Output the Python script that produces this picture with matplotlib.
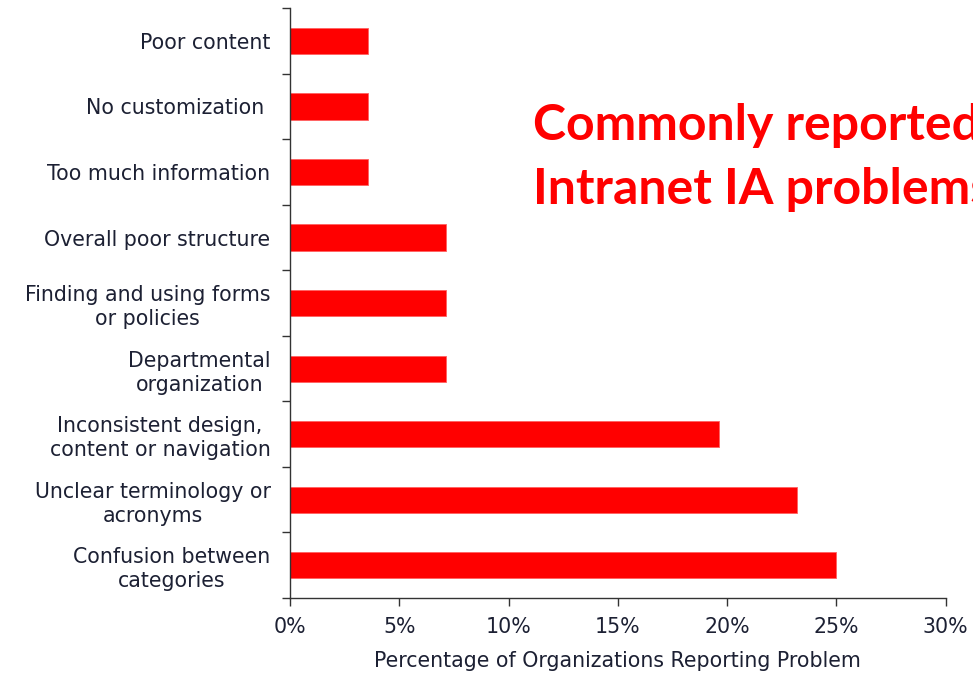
import matplotlib
matplotlib.use("Agg")
import matplotlib.pyplot as plt
import numpy as np
from matplotlib.ticker import FixedLocator, FuncFormatter

# data (top -> bottom as in the picture)
categories = [
    "Poor content",
    "No customization ",
    "Too much information",
    "Overall poor structure",
    "Finding and using forms\nor policies",
    "Departmental\norganization",
    "Inconsistent design,\ncontent or navigation",
    "Unclear terminology or\nacronyms",
    "Confusion between\ncategories",
]
percent = [3.57, 3.57, 3.57, 7.14, 7.14, 7.14, 19.64, 23.21, 25.0]
xticks = [0, 5, 10, 15, 20, 25, 30]

TEXT = "#1c2033"
RED = "#ff0000"
FS = 14.8

plt.rcParams.update({
    "font.family": "DejaVu Sans",
    "font.size": FS,
})

fig = plt.figure(figsize=(9.73, 6.75), dpi=100, facecolor="white")
ax = fig.add_axes([0.298, 0.114, 0.674, 0.874])

n = len(categories)
ypos = np.arange(n)
ax.barh(ypos, percent, height=0.4, color=RED, edgecolor="#ff6060", linewidth=0.6)

ax.set_ylim(n - 0.5, -0.5)
ax.set_xlim(0, 30)

ax.set_yticks(ypos)
ax.set_yticklabels(categories)
for lab in ax.get_yticklabels():
    lab.set_multialignment("center")
    lab.set_linespacing(1.25)
ax.yaxis.set_minor_locator(FixedLocator(np.arange(-0.5, n, 1.0)))
ax.tick_params(axis="y", which="major", length=0, pad=14, labelsize=FS, labelcolor=TEXT)
ax.tick_params(axis="y", which="minor", length=5.5, width=1, color="#333333")

ax.set_xticks(xticks)
ax.xaxis.set_major_formatter(FuncFormatter(lambda v, p: f"{v:.0f}%"))
ax.tick_params(axis="x", length=5.5, width=1, color="#333333", pad=8,
               labelsize=FS, labelcolor=TEXT)

ax.set_xlabel("Percentage of Organizations Reporting Problem", fontsize=FS,
              color=TEXT, labelpad=10)

for side in ["top", "right"]:
    ax.spines[side].set_visible(False)
for side in ["left", "bottom"]:
    ax.spines[side].set_color("#333333")
    ax.spines[side].set_linewidth(1)

# title text runs past the right edge, as in the original slide
fig.text(533 / 973, 1 - 140 / 675, "Commonly reported",
         fontsize=36, fontweight="bold", color=RED, family="Lato",
         ha="left", va="baseline")
fig.text(533 / 973, 1 - 204 / 675, "Intranet IA problems",
         fontsize=36, fontweight="bold", color=RED, family="Lato",
         ha="left", va="baseline")

fig.savefig("out.png", dpi=100)
